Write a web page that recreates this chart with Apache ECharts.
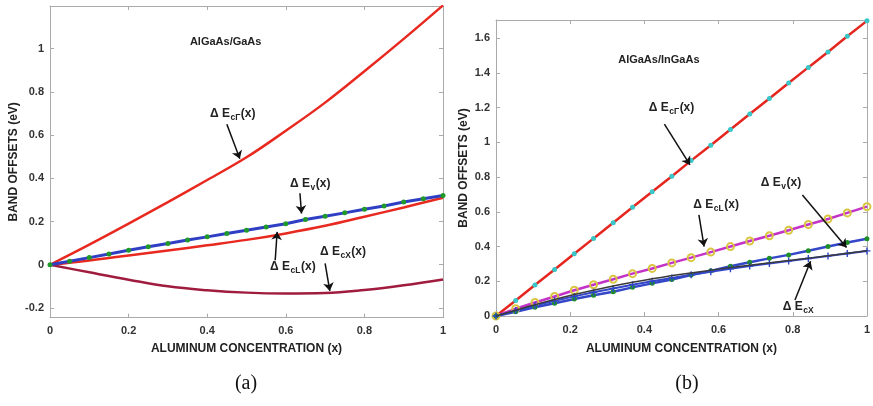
<!DOCTYPE html>
<html><head><meta charset="utf-8">
<script src="https://cdn.jsdelivr.net/npm/echarts@6/dist/echarts.min.js"></script>
<style>html,body{margin:0;padding:0;background:#fff}#c{width:873px;height:406px}</style>
</head><body><div id="c"></div>
<script>
// ---------- Panel (a): AlGaAs/GaAs ----------
const xA_fine = [0,0.05,0.1,0.15,0.2,0.25,0.3,0.35,0.4,0.45,0.5,0.55,0.6,0.65,0.7,0.75,0.8,0.85,0.9,0.95,1];
const evA = [0,0.016,0.033,0.05,0.067,0.083,0.098,0.114,0.129,0.145,0.16,0.175,0.19,0.209,0.224,0.24,0.257,0.272,0.29,0.305,0.32];
const xA = [0,0.1,0.2,0.3,0.4,0.5,0.6,0.7,0.8,0.9,1];
const ecGammaA = [0,0.093,0.19,0.29,0.392,0.497,0.62,0.75,0.895,1.045,1.2];
const ecLA = [0,0.02,0.043,0.066,0.09,0.115,0.145,0.18,0.222,0.265,0.31];
const ecXA = [0,-0.035,-0.069,-0.1,-0.118,-0.129,-0.133,-0.131,-0.117,-0.095,-0.068];

// ---------- Panel (b): AlGaAs/InGaAs ----------
const xB = [0,0.053,0.105,0.158,0.211,0.263,0.316,0.368,0.421,0.474,0.526,0.579,0.632,0.684,0.737,0.789,0.842,0.895,0.947,1];
const ecGammaB = [0,0.089,0.179,0.268,0.358,0.447,0.537,0.626,0.716,0.805,0.895,0.984,1.074,1.163,1.253,1.342,1.432,1.521,1.611,1.7];
const ecLB = [0,0.042,0.078,0.112,0.148,0.18,0.212,0.244,0.274,0.306,0.336,0.368,0.4,0.432,0.462,0.494,0.527,0.559,0.594,0.63];
const evB = [0,0.025,0.05,0.073,0.098,0.119,0.14,0.165,0.188,0.21,0.236,0.26,0.287,0.31,0.332,0.352,0.376,0.4,0.423,0.445];
const ecXB = [0,0.031,0.06,0.088,0.113,0.137,0.159,0.18,0.2,0.219,0.237,0.255,0.272,0.288,0.303,0.317,0.331,0.345,0.36,0.375];
const xB_line = [0,0.1,0.2,0.3,0.4,0.5,0.6,0.7,0.8,0.9,1];
const ecXfitB = [0,0.062,0.118,0.166,0.206,0.24,0.27,0.297,0.322,0.348,0.376];

// tick labels
const xTicks = [0,0.2,0.4,0.6,0.8,1];
const yTicksA = [-0.2,0,0.2,0.4,0.6,0.8,1];
const yTicksB = [0,0.2,0.4,0.6,0.8,1,1.2,1.4,1.6];

const pairs = (xs, ys) => xs.map((x, i) => [x, ys[i]]);

const FONT = "'Liberation Sans', Arial, sans-serif";
const AXC = '#aaaaaa';
const fmt = v => String(+(+v).toFixed(2));

function makeX(grid, pos, name, gap) {
  const main = pos === 'bottom';
  return {
    type: 'value', gridIndex: grid, position: pos, min: 0, max: 1,
    name: main ? name : '', nameLocation: 'middle', nameGap: gap,
    nameTextStyle: {fontFamily: FONT, fontWeight: 'bold', fontSize: 12, color: '#222'},
    axisLine: {show: true, onZero: false, lineStyle: {color: AXC, width: 1}},
    axisTick: {show: true, inside: true, length: 4, customValues: xTicks, lineStyle: {color: AXC}},
    axisLabel: {show: main, customValues: xTicks, margin: 8, formatter: fmt,
      fontFamily: FONT, fontWeight: 'bold', fontSize: 11, color: '#333'},
    splitLine: {show: false}
  };
}
function makeY(grid, pos, min, max, ticks, gap) {
  const main = pos === 'left';
  return {
    type: 'value', gridIndex: grid, position: pos, min: min, max: max,
    name: main ? 'BAND OFFSETS (eV)' : '', nameLocation: 'middle', nameGap: gap, nameRotate: 90,
    nameTextStyle: {fontFamily: FONT, fontWeight: 'bold', fontSize: 12, color: '#222'},
    axisLine: {show: true, onZero: false, lineStyle: {color: AXC, width: 1}},
    axisTick: {show: true, inside: true, length: 4, customValues: ticks, lineStyle: {color: AXC}},
    axisLabel: {show: main, customValues: ticks, margin: 6, formatter: fmt,
      fontFamily: FONT, fontWeight: 'bold', fontSize: 11, color: '#333'},
    splitLine: {show: false}
  };
}

const arrowStyle = {
  silent: true, symbol: ['none', 'arrow'], symbolSize: 8, animation: false,
  label: {show: false}, lineStyle: {color: '#111', width: 1.5, type: 'solid'},
  emphasis: {disabled: true}
};
const arrowsA = [
  [[0.45, 0.65], [0.483, 0.49]],
  [[0.636, 0.331], [0.64, 0.237]],
  [[0.573, 0.021], [0.578, 0.152]],
  [[0.70, 0.006], [0.712, -0.121]]
];
const arrowsB = [
  [[0.454, 1.105], [0.523, 0.87]],
  [[0.826, 0.697], [0.945, 0.395]],
  [[0.547, 0.582], [0.561, 0.40]],
  [[0.806, 0.092], [0.848, 0.315]]
];
const toML = arr => arr.map(a => [{coord: a[0]}, {coord: a[1]}]);

const plusPath = 'path://M4,0h2v4h4v2h-4v4h-2v-4h-4v-2h4z';

const chart = echarts.init(document.getElementById('c'), null, {renderer: 'canvas'});
const option = {
  animation: false,
  backgroundColor: '#fff',
  grid: [
    {left: 50, top: 6, width: 393, height: 311.7},
    {left: 496, top: 20, width: 374, height: 296}
  ],
  xAxis: [
    makeX(0, 'bottom', 'ALUMINUM CONCENTRATION (x)', 25),
    makeX(0, 'top', '', 0),
    makeX(1, 'bottom', 'ALUMINUM CONCENTRATION (x)', 27),
    makeX(1, 'top', '', 0)
  ],
  yAxis: [
    makeY(0, 'left', -0.245, 1.197, yTicksA, 30),
    makeY(0, 'right', -0.245, 1.197, yTicksA, 0),
    makeY(1, 'left', 0, 1.705, yTicksB, 26),
    makeY(1, 'right', 0, 1.705, yTicksB, 0)
  ],
  series: [
    // panel a
    {type: 'line', xAxisIndex: 0, yAxisIndex: 0, data: pairs(xA, ecGammaA), smooth: 0.4, showSymbol: false,
      lineStyle: {color: '#e8291f', width: 2.5}, z: 3},
    {type: 'line', xAxisIndex: 0, yAxisIndex: 0, data: pairs(xA, ecLA), smooth: 0.4, showSymbol: false,
      lineStyle: {color: '#e8291f', width: 2.5}, z: 3},
    {type: 'line', xAxisIndex: 0, yAxisIndex: 0, data: pairs(xA, ecXA), smooth: 0.4, showSymbol: false,
      lineStyle: {color: '#a01c3e', width: 2.5}, z: 3},
    {type: 'line', xAxisIndex: 0, yAxisIndex: 0, data: pairs(xA_fine, evA), showSymbol: true,
      symbol: 'circle', symbolSize: 5, itemStyle: {color: '#1f9a2a'},
      lineStyle: {color: '#2f3fc4', width: 3}, z: 4,
      markLine: Object.assign({data: toML(arrowsA)}, arrowStyle)},
    // panel b
    {type: 'line', xAxisIndex: 2, yAxisIndex: 2, data: pairs(xB, ecGammaB), showSymbol: true,
      symbol: 'circle', symbolSize: 5, itemStyle: {color: '#38c6c8'},
      lineStyle: {color: '#e5261f', width: 2.5}, z: 3},
    {type: 'line', xAxisIndex: 2, yAxisIndex: 2, data: pairs(xB, ecLB), showSymbol: true,
      symbol: 'circle', symbolSize: 7, itemStyle: {color: 'rgba(0,0,0,0)', borderColor: '#d9c640', borderWidth: 2},
      lineStyle: {color: '#c433c8', width: 2.5}, z: 3},
    {type: 'line', xAxisIndex: 2, yAxisIndex: 2, data: pairs(xB, evB), showSymbol: true,
      symbol: 'circle', symbolSize: 5, itemStyle: {color: '#1e8f2a'},
      lineStyle: {color: '#3347c8', width: 2.5}, z: 3},
    {type: 'line', xAxisIndex: 2, yAxisIndex: 2, data: pairs(xB, ecXB), showSymbol: true,
      symbol: plusPath, symbolSize: 7, itemStyle: {color: '#2f45c8'},
      lineStyle: {color: '#3347c8', width: 2}, z: 3},
    {type: 'line', xAxisIndex: 2, yAxisIndex: 2, data: pairs(xB_line, ecXfitB), smooth: 0.3, showSymbol: false,
      lineStyle: {color: '#3a3a3a', width: 1.5}, z: 4,
      markLine: Object.assign({data: toML(arrowsB)}, arrowStyle)}
  ]
};
chart.setOption(option);

// annotation texts, positioned in data coordinates of each panel
const annA = [
  {x: 0.407, y: 0.70, sub: 'cΓ', tail: '(x)'},
  {x: 0.611, y: 0.377, sub: 'v', tail: '(x)'},
  {x: 0.56, y: -0.007, sub: 'cL', tail: '(x)'},
  {x: 0.687, y: 0.059, sub: 'cX', tail: '(x)'}
];
const annB = [
  {x: 0.412, y: 1.198, sub: 'cΓ', tail: '(x)'},
  {x: 0.714, y: 0.767, sub: 'v', tail: '(x)'},
  {x: 0.532, y: 0.64, sub: 'cL', tail: '(x)'},
  {x: 0.773, y: 0.054, sub: 'cX', tail: ''}
];
const MAIN_FS = 12, SUB_FS = 8.5;
const mctx = document.createElement('canvas').getContext('2d');
function textW(t, fs) { mctx.font = 'bold ' + fs + 'px ' + FONT; return mctx.measureText(t).width; }
const graphics = [];
function txt(x, y, t, fs) {
  return {type: 'text', x: x, y: y, silent: true,
    style: {text: t, fontFamily: FONT, fontWeight: 'bold', fontSize: fs, fill: '#222',
      align: 'left', verticalAlign: 'middle'}};
}
function addAnn(list, seriesIndex) {
  list.forEach(a => {
    const p = chart.convertToPixel({seriesIndex: seriesIndex}, [a.x, a.y]);
    const w1 = textW('Δ E', MAIN_FS);
    graphics.push(txt(p[0], p[1], 'Δ E', MAIN_FS));
    graphics.push(txt(p[0] + w1 + 0.5, p[1] + 4, a.sub, SUB_FS));
    if (a.tail) {
      const w2 = textW(a.sub, SUB_FS);
      graphics.push(txt(p[0] + w1 + w2 + 1, p[1], a.tail, MAIN_FS));
    }
  });
}
addAnn(annA, 0);
addAnn(annB, 4);
function addTitle(text, seriesIndex, x, y) {
  const p = chart.convertToPixel({seriesIndex: seriesIndex}, [x, y]);
  graphics.push({type: 'text', x: p[0], y: p[1], silent: true,
    style: {text: text, fontFamily: FONT, fontWeight: 'bold', fontSize: 11, fill: '#222',
      align: 'center', verticalAlign: 'middle'}});
}
addTitle('AlGaAs/GaAs', 0, 0.447, 1.03);
addTitle('AlGaAs/InGaAs', 4, 0.439, 1.475);
graphics.push({type: 'text', x: 246, y: 384, silent: true,
  style: {text: '(a)', fontFamily: "'Liberation Serif', 'Times New Roman', serif", fontSize: 20, fill: '#111',
    align: 'center', verticalAlign: 'middle'}});
graphics.push({type: 'text', x: 687, y: 384, silent: true,
  style: {text: '(b)', fontFamily: "'Liberation Serif', 'Times New Roman', serif", fontSize: 20, fill: '#111',
    align: 'center', verticalAlign: 'middle'}});
chart.setOption({graphic: graphics});
</script>
</body></html>
